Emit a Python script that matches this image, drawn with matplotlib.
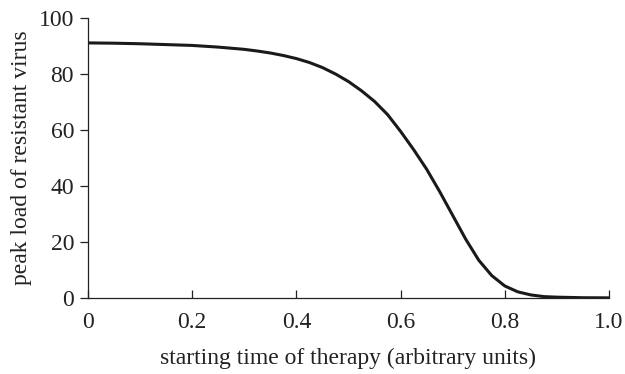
import numpy as np
import matplotlib.pyplot as plt

plt.rcParams['font.family'] = ['Liberation Serif', 'DejaVu Serif']

start_time = [0.0, 0.05, 0.1, 0.15, 0.2, 0.25, 0.3, 0.325, 0.35, 0.375, 0.4,
              0.425, 0.45, 0.475, 0.5, 0.525, 0.55, 0.575, 0.6, 0.625, 0.65,
              0.675, 0.7, 0.725, 0.75, 0.775, 0.8, 0.825, 0.85, 0.875, 0.9,
              0.95, 1.0]
peak_load = [91.1, 91.0, 90.8, 90.5, 90.2, 89.6, 88.8, 88.2, 87.5, 86.6, 85.5,
             84.1, 82.3, 80.0, 77.3, 74.0, 70.2, 65.5, 59.5, 53.0, 46.0,
             38.0, 29.5, 21.0, 13.5, 8.0, 4.3, 2.2, 1.1, 0.5, 0.3,
             0.1, 0.05]

fig = plt.figure(figsize=(6.25, 3.74), dpi=100)
ax = fig.add_axes([0.1408, 0.2032, 0.8336, 0.7487])

ax.plot(start_time, peak_load, color='#1a1a1a', lw=2.2,
        solid_capstyle='round', solid_joinstyle='round')

ax.set_xlim(0, 1.0)
ax.set_ylim(0, 100)
ax.set_xticks([0, 0.2, 0.4, 0.6, 0.8, 1.0])
ax.set_xticklabels(['0', '0.2', '0.4', '0.6', '0.8', '1.0'])
ax.set_yticks([0, 20, 40, 60, 80, 100])

for s in ['top', 'right']:
    ax.spines[s].set_visible(False)
for s in ['left', 'bottom']:
    ax.spines[s].set_linewidth(0.9)
    ax.spines[s].set_color('#222222')

ax.tick_params(axis='x', direction='in', length=6, width=0.9, labelsize=17,
               pad=10, colors='#222222')
ax.tick_params(axis='y', direction='out', length=6, width=0.9, labelsize=17,
               pad=4, colors='#222222')

ax.set_xlabel('starting time of therapy (arbitrary units)', fontsize=17,
              labelpad=11, color='#222222')
ax.set_ylabel('peak load of resistant virus', fontsize=17, labelpad=5,
              color='#222222')

fig.savefig('out.png', dpi=100)
